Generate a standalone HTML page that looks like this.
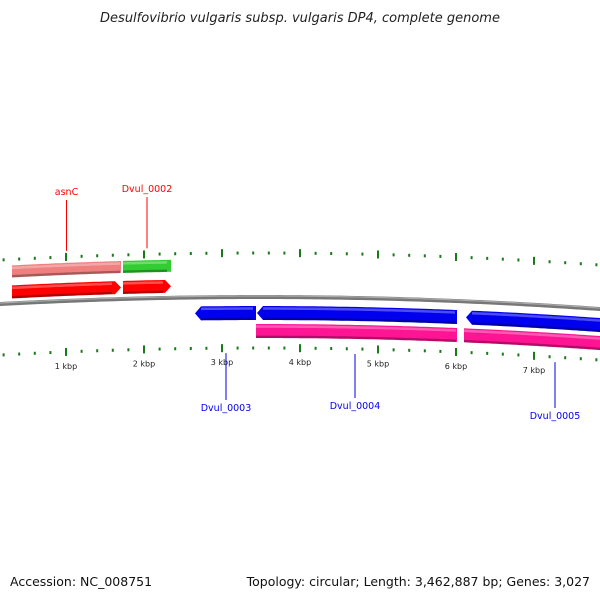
<!DOCTYPE html>
<html><head><meta charset="utf-8"><style>
html,body{margin:0;padding:0;background:#fff}
svg{display:block;font-family:"DejaVu Sans","Liberation Sans",sans-serif}
</style></head><body>
<svg id="map" width="600" height="600" viewBox="0 0 600 600">
<text x="300" y="22" text-anchor="middle" font-size="13" font-style="italic" fill="#222">Desulfovibrio vulgaris subsp. vulgaris DP4, complete genome</text>
<text x="10" y="586" font-size="12.5" fill="#111">Accession: NC_008751</text>
<text x="590" y="586" text-anchor="end" font-size="12.5" fill="#111">Topology: circular; Length: 3,462,887 bp; Genes: 3,027</text>
<g id="ticks"></g><g id="genes"></g><g id="labels"></g>
</svg>
<script>
const geneNames=["asnC","Dvul_0002","Dvul_0003","Dvul_0004","Dvul_0005"];
const geneStart=[308,1731,2654,3449,6128];
const geneEnd=[1705,2346,3436,6013,7900];
const geneStrand=[1,1,-1,-1,-1];
const geneColor=["#ff0000","#ff0000","#0000ee","#0000ee","#0000ee"];
const featStart=[308,1731,3436,6103];
const featEnd=[1705,2346,6013,7900];
const featColor=["#f08080","#33cc33","#ff1493","#ff1493"];
const featSide=[-1,-1,1,1];
const labelOff=[-55,-58,58,58,64];
const tickLabels=["1 kbp","2 kbp","3 kbp","4 kbp","5 kbp","6 kbp","7 kbp"];
const tickValues=[1000,2000,3000,4000,5000,6000,7000];

const NS="http://www.w3.org/2000/svg";
const X=bp=>-12+bp*0.078;
const Y=(x,off)=>297+(x-260)*(x-260)/9600+off;
function mk(tag,attrs,parent){const e=document.createElementNS(NS,tag);for(const k in attrs)e.setAttribute(k,attrs[k]);parent.appendChild(e);return e;}
const gT=document.getElementById('ticks'),gG=document.getElementById('genes'),gL=document.getElementById('labels');

// backbone
let d="";for(let x=-5;x<=605;x+=5)d+=(x===-5?"M":"L")+x+","+Y(x,0).toFixed(2);
let bb=mk('path',{d:d,fill:'none',stroke:'#777','stroke-width':4},gG);


let bb2=mk('path',{d:d,fill:'none',stroke:'#aaa','stroke-width':1.2,transform:'translate(0,-1)'},gG);



// ticks
for(let bp=0;bp<=8000;bp+=200){
  const x=X(bp);if(x<0||x>600)continue;
  const major=bp%1000===0;const h=major?8:3;
  const t1=mk('rect',{x:x-1,y:Y(x,-44)-h/2,width:2,height:h,fill:'#1a7a1a'},gT);
  
  
  const t2=mk('rect',{x:x-1,y:Y(x,51)-h/2,width:2,height:h,fill:'#1a7a1a'},gT);
  
  
}
tickValues.forEach((v,i)=>{const x=X(v);
  const t=mk('text',{x:x,y:Y(x,68),'text-anchor':'middle','font-size':8,fill:'#222'},gT);t.textContent=tickLabels[i];
  
  });

function band(x1,x2,o1,o2,dir,color,name){
  let pts=[];const ah=6;
  let a=x1,b=x2;if(dir>0)b=x2-ah;if(dir<0)a=x1+ah;
  for(let x=a;x<=b;x+=4)pts.push([x,Y(x,o1)]);pts.push([b,Y(b,o1)]);
  if(dir>0)pts.push([x2,Y(x2,(o1+o2)/2)]);
  for(let x=b;x>=a;x-=4)pts.push([x,Y(x,o2)]);pts.push([a,Y(a,o2)]);
  if(dir<0)pts.push([x1,Y(x1,(o1+o2)/2)]);
  const p=mk('polygon',{points:pts.map(p=>p[0].toFixed(1)+","+p[1].toFixed(1)).join(" "),fill:color},gG);
  
  
  let sh="";for(let x=a;x<=b;x+=4)sh+=(x===a?"M":"L")+x+","+Y(x,o2-1.2).toFixed(1);
  const s=mk('path',{d:sh,stroke:'rgba(0,0,0,0.3)','stroke-width':2.4,fill:'none'},gG);
  
  
  let hl="";for(let x=a;x<=b;x+=4)hl+=(x===a?"M":"L")+x+","+Y(x,o1+2.5).toFixed(1);
  const h=mk('path',{d:hl,stroke:'rgba(255,255,255,0.3)','stroke-width':2.5,fill:'none'},gG);
  
  
}
featStart.forEach((s,i)=>{const o=featSide[i]<0?[-38,-26]:[27,41];
  band(Math.max(X(s),-10),Math.min(X(featEnd[i]),610),o[0],o[1],0,featColor[i],'feature-'+i);});
geneStart.forEach((s,i)=>{const o=geneStrand[i]>0?[-18,-5]:[9,23];
  const x2=X(geneEnd[i]);band(X(s),Math.min(x2,610),o[0],o[1],x2>610?(geneStrand[i]>0?0:-1):geneStrand[i],geneColor[i],'gene-'+geneNames[i]);});

geneNames.forEach((n,i)=>{
  const x=(i<2)?X(geneStart[i]+(geneEnd[i]-geneStart[i])/2):[226,355,555][i-2];
  const col=geneStrand[i]>0?'#ff0000':'#0000ee';
  let y1,y2,ty;
  if(geneStrand[i]>0){y2=Y(x,-50);y1=[200,197][i];ty=y1-5;}
  else{y1=Y(x,56);y2=[400,398,408][i-2];ty=y2+11;}
  const l=mk('line',{x1:x,y1:y1,x2:x,y2:y2,stroke:col,'stroke-width':1},gL);
  
  
  const t=mk('text',{x:x,y:ty,'text-anchor':'middle','font-size':9.5,fill:col},gL);t.textContent=n;
  
  
});
</script>
</body></html>
